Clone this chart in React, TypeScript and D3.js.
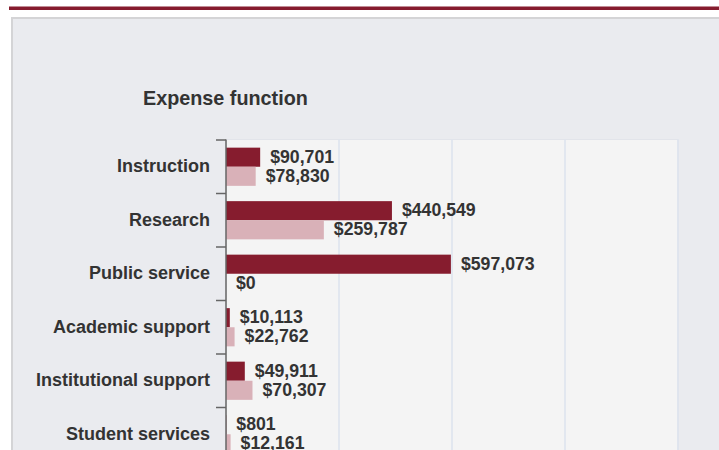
import React from "react";
import * as d3 from "d3";

const categories = [
  "Instruction",
  "Research",
  "Public service",
  "Academic support",
  "Institutional support",
  "Student services",
];
const seriesA = [90701, 440549, 597073, 10113, 49911, 801];
const seriesB = [78830, 259787, 0, 22762, 70307, 12161];
const xTicks = [0, 300000, 600000, 900000, 1200000];
const seriesKeys = ["a", "b"];
const seriesColors = ["#861c2e", "#d9b1b8"];

const W = 719;
const H = 450;
const plotLeft = 226;
const plotRight = 678;
const plotTop = 139.5;
const bandStep = 53.5;

export default function App() {
  const x = d3.scaleLinear().domain([0, 1200000]).range([plotLeft, plotRight]);
  const y = d3
    .scaleBand<string>()
    .domain(categories)
    .range([140, 140 + bandStep * categories.length])
    .paddingInner(0)
    .paddingOuter(0);
  const sub = d3
    .scaleBand<string>()
    .domain(seriesKeys)
    .range([0, y.bandwidth()])
    .paddingInner(0)
    .paddingOuter(0.4);
  const fmt = (v: number) => "$" + d3.format(",")(v);
  const series = [seriesA, seriesB];
  const font = "Liberation Sans, Arial, sans-serif";

  return (
    <div style={{ position: "fixed", left: 0, top: 0, width: W, height: H, background: "#fff" }}>
      <svg width={W} height={H} style={{ display: "block" }} fontFamily={font}>
        <rect x={0} y={0} width={W} height={H} fill="#ffffff" />
        <rect x={9} y={6.5} width={W - 9} height={3.5} fill="#861c2e" />
        <rect x={12} y={18} width={W} height={H} fill="#eaebef" stroke="#d4d4d6" strokeWidth={2} />
        <text x={143} y={105} fontSize={19.8} fontWeight="bold" fill="#333">
          Expense function
        </text>
        <rect x={plotLeft} y={plotTop} width={plotRight - plotLeft} height={H} fill="#f4f4f4" stroke="#e2e4ea" strokeWidth={1} />
        {xTicks.slice(1).map((t) => (
          <line key={t} x1={x(t)} x2={x(t)} y1={plotTop} y2={H} stroke="#dde3ee" strokeWidth={1.5} />
        ))}
        {categories.map((c, i) => (
          <g key={c}>
            {series.map((s, k) => {
              const yy = (y(c) as number) + (sub(seriesKeys[k]) as number);
              const bw = sub.bandwidth();
              return (
                <g key={k}>
                  <rect x={x(0)} y={yy} width={Math.max(0, x(s[i]) - x(0))} height={bw} fill={seriesColors[k]} />
                  <text
                    x={x(s[i]) + 10}
                    y={yy + bw / 2}
                    dy="0.3em"
                    fontSize={17.7}
                    fontWeight="bold"
                    fill="#333"
                  >
                    {fmt(s[i])}
                  </text>
                </g>
              );
            })}
            <text
              x={210}
              y={(y(c) as number) + y.bandwidth() / 2}
              dy="0.3em"
              textAnchor="end"
              fontSize={18}
              fontWeight="bold"
              fill="#333"
            >
              {c}
            </text>
          </g>
        ))}
        <line x1={plotLeft} x2={plotLeft} y1={plotTop} y2={H} stroke="#666" strokeWidth={1.5} />
        {categories.map((c) => (
          <line key={c} x1={216} x2={plotLeft} y1={y(c) as number} y2={y(c) as number} stroke="#666" strokeWidth={1.5} />
        ))}
      </svg>
    </div>
  );
}
